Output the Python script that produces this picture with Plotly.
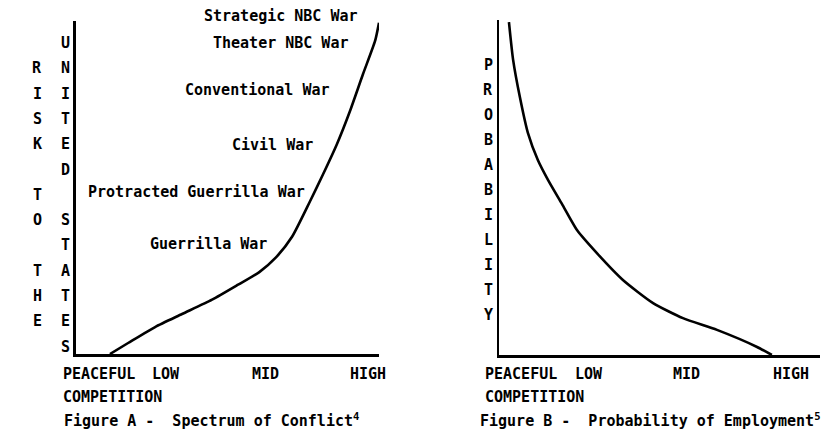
import plotly.graph_objects as go

# ---------------- data ----------------
# Figure A: Spectrum of Conflict (x: intensity 0-100, y: risk 0-100)
conflict_x = [11.2, 17.2, 26.1, 35.0, 44.9, 53.5, 60.5, 66.0, 71.3, 77.2, 81.5, 86.1, 90.4, 94.7, 98.7, 100.0]
conflict_y = [0.0, 3.3, 8.1, 12.0, 16.3, 20.8, 24.6, 29.0, 35.2, 45.8, 53.9, 63.0, 72.9, 84.0, 94.0, 99.5]

conflict_names = ["Strategic NBC War", "Theater NBC War", "Conventional War",
                  "Civil War", "Protracted Guerrilla War", "Guerrilla War"]
# right edge (px) and vertical centre (px) of each label
conflict_label_px = [360, 350, 332, 315, 307, 269]
conflict_label_py = [16, 43, 90, 145, 192, 244]

# Figure B: Probability of Employment
employ_x = [3.1, 4.4, 6.5, 9.0, 12.1, 15.3, 19.6, 24.3, 30.5, 38.6, 48.0, 57.3, 67.9, 80.4, 85.0]
employ_y = [99.4, 88.1, 77.0, 66.3, 58.2, 52.2, 45.1, 37.3, 30.4, 22.4, 15.5, 11.0, 7.5, 2.4, 0.0]

tick_labels = ["PEACEFUL", "LOW", "MID", "HIGH"]
tick_px_A = [61, 150, 250, 348]
tick_px_B = [483, 573, 671, 771]

ylab_A1 = "RISK TO THE"
ylab_A2 = "UNITED STATES"
ylab_B = "PROBABILITY"

caption_A = "Figure A -  Spectrum of Conflict<sup>4</sup>"
caption_B = "Figure B -  Probability of Employment<sup>5</sup>"

# ---------------- figure ----------------
OFF = 8                     # default page body margin
W, H = 836 - OFF, 442 - OFF
FONT = "DejaVu Sans Mono"
fnt = dict(family=FONT, size=15, color="black", weight="bold")
YS = 0

def py(p):
    return 1 - (p - OFF) / H

def px(p):
    return (p - OFF) / W

fig = go.Figure()
fig.add_trace(go.Scatter(x=conflict_x, y=conflict_y, mode="lines",
                         line=dict(color="black", width=2.6, shape="spline", smoothing=0.6),
                         xaxis="x", yaxis="y", showlegend=False, hoverinfo="skip"))
fig.add_trace(go.Scatter(x=employ_x, y=employ_y, mode="lines",
                         line=dict(color="black", width=2.6, shape="spline", smoothing=0.6),
                         xaxis="x2", yaxis="y2", showlegend=False, hoverinfo="skip"))

ax_common = dict(showgrid=False, zeroline=False, showticklabels=False, ticks="",
                 showline=True, linecolor="black", fixedrange=True)

fig.update_layout(
    width=W, height=H,
    margin=dict(l=0, r=0, t=0, b=0),
    paper_bgcolor="white", plot_bgcolor="white",
    xaxis=dict(domain=[px(76), px(379)], range=[0, 100], anchor="y", linewidth=3.2, **ax_common),
    yaxis=dict(domain=[py(354), py(21)], range=[0, 100], anchor="x", linewidth=3.2, **ax_common),
    xaxis2=dict(domain=[px(499), px(820)], range=[0, 100], anchor="y2", linewidth=3.2, **ax_common),
    yaxis2=dict(domain=[py(355), py(20)], range=[0, 100], anchor="x2", linewidth=2, **ax_common),
)

ann = []

def text(t, xp, yp, xanchor="left"):
    ann.append(dict(text=t, x=px(xp), y=py(yp), xref="paper", yref="paper",
                    xanchor=xanchor, yanchor="middle", yshift=YS,
                    showarrow=False, font=fnt))

# conflict labels
for name, lx, ly in zip(conflict_names, conflict_label_px, conflict_label_py):
    text(name, lx, ly, "right")

# x tick labels
for lab, a, b in zip(tick_labels, tick_px_A, tick_px_B):
    text(lab, a, 374)
    text(lab, b, 374)
text("COMPETITION", tick_px_A[0], 397)
text("COMPETITION", tick_px_B[0], 397)

# captions
text(caption_A, 62, 420)
text(caption_B, 478, 420)

# vertical stacked letters
def stack(s, xpix, y0, step, start_line=0):
    for i, ch in enumerate(s):
        if ch == " ":
            continue
        text(ch, xpix, y0 + (start_line + i) * step, "center")

stack(ylab_A2, 65, 43, 25.3, 0)
stack(ylab_A1, 37, 43, 25.3, 1)
stack(ylab_B, 488, 65, 25.0, 0)

fig.update_layout(annotations=ann)
fig.write_html("out.html")
